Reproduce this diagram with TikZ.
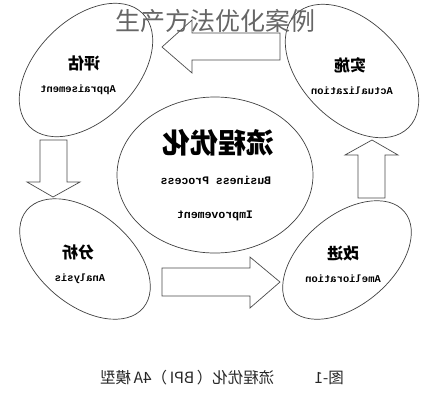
\documentclass[tikz,border=0pt]{standalone}
\usepackage{fontspec}
\setmainfont{Liberation Serif}
\newfontfamily\cjk{Noto Sans CJK SC}
\newfontfamily\monof{Liberation Mono}
\usetikzlibrary{shapes.geometric}
\begin{document}
\begin{tikzpicture}[x=1pt,y=-1pt,
  stage/.style={draw=black!75, line width=0.7pt, ellipse, inner sep=0pt},
  blockarrow/.style={draw=black!70, line width=0.7pt, fill=white, line join=miter},
  cn/.style={font=\cjk\bfseries\fontsize{16}{16}\selectfont},
  en/.style={font=\monof\bfseries\fontsize{10.5}{10.5}\selectfont},
  enbig/.style={font=\monof\bfseries\fontsize{11.5}{11.5}\selectfont}]
\useasboundingbox[fill=white] (0,0) rectangle (426,400);

% stage ellipses
\node[stage, minimum width=160, minimum height=100, rotate=45] (appr) at (86,70) {};
\node[stage, minimum width=160, minimum height=100, rotate=-45] (actu) at (352,71) {};
\node[stage, minimum width=152, minimum height=92, rotate=-40] (anal) at (85,259) {};
\node[stage, minimum width=150, minimum height=90, rotate=40] (amel) at (347,260) {};
\node[stage, minimum width=196, minimum height=156] (bpi) at (215,175) {};

% labels
\node[cn] (apprcn) at (84,63) {\reflectbox{评估}};
\node[en] (appren) at (78,90) {\reflectbox{Appraisement}};
\node[cn] (actucn) at (350,65) {\reflectbox{实施}};
\node[en] (actuen) at (352,91) {\reflectbox{Actualization}};
\node[cn] (analcn) at (78,252) {\reflectbox{分析}};
\node[en] (analen) at (80,279) {\reflectbox{Analysis}};
\node[cn] (amelcn) at (343,253) {\reflectbox{改进}};
\node[en] (amelen) at (343,279) {\reflectbox{Amelioration}};
\node[font=\cjk\bfseries\fontsize{28}{28}\selectfont] (bpicn) at (218,143) {\reflectbox{流程优化}};
\node[enbig] (bpien1) at (216,180) {\reflectbox{Business Process}};
\node[enbig] (bpien2) at (215,216) {\reflectbox{Improvement}};

% block arrows
\draw[blockarrow] (162,47) -- (192,20) -- (192,33) -- (280,33) -- (280,60) -- (192,60) -- (192,73) -- cycle;
\draw[blockarrow] (40,140) -- (67,140) -- (67,182) -- (80,182) -- (53,197) -- (27,182) -- (40,182) -- cycle;
\draw[blockarrow] (372,140) -- (398,155) -- (385,155) -- (385,198) -- (358,198) -- (358,155) -- (345,155) -- cycle;
\draw[blockarrow] (162,268) -- (250,268) -- (250,257) -- (280,282) -- (250,308) -- (250,296) -- (162,296) -- cycle;

% caption
\node[font=\cjk\fontsize{15.5}{15.5}\selectfont, text=black!85] (cap) at (222,378) {\reflectbox{图-1\hspace{40pt}流程优化（\,BPI\,）4A\,模型}};

% overlay title
\node[font=\cjk\fontsize{25}{25}\selectfont, text=black!60] (title) at (215,21) {生产方法优化案例};
\end{tikzpicture}
\end{document}
